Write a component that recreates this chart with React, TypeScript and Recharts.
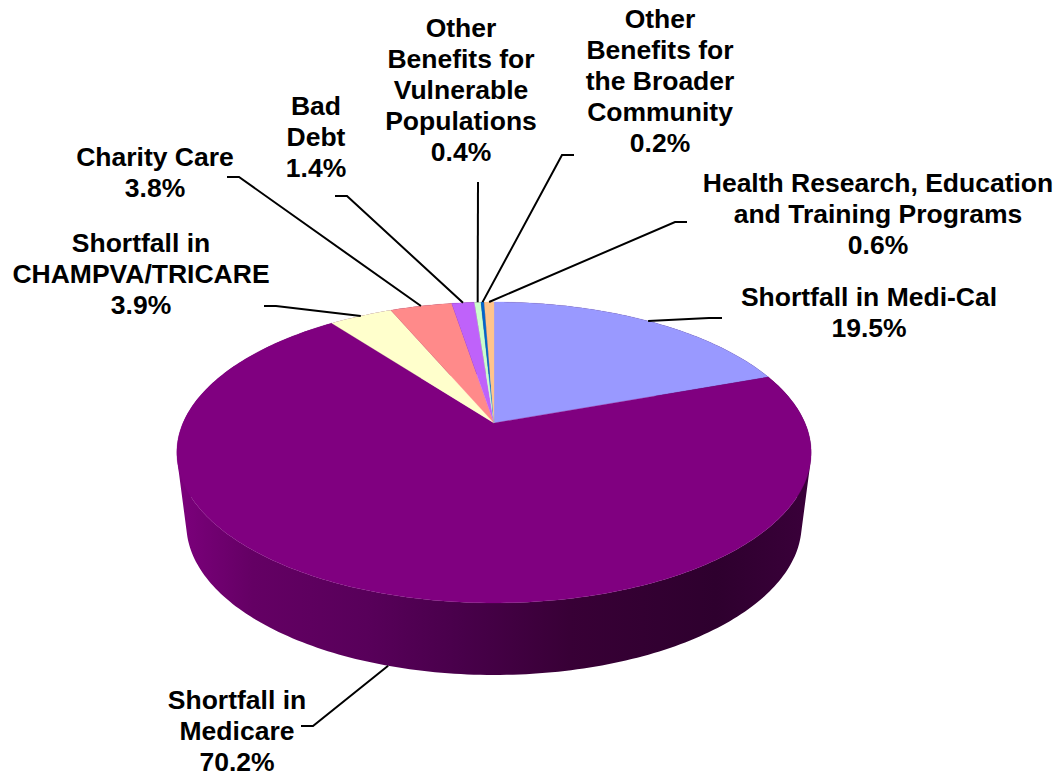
import React from 'react';
import { PieChart, Pie } from 'recharts';

const sliceNames = [
  'Shortfall in Medi-Cal',
  'Shortfall in Medicare',
  'Shortfall in CHAMPVA/TRICARE',
  'Charity Care',
  'Bad Debt',
  'Other Benefits for Vulnerable Populations',
  'Other Benefits for the Broader Community',
  'Health Research, Education and Training Programs',
];
const sliceValues = [19.5, 70.2, 3.9, 3.8, 1.4, 0.4, 0.2, 0.6];
const sliceColors = ['#9999FF', '#800080', '#FFFFCC', '#FF8A8A', '#BF62FA', '#CCFFCC', '#0066CC', '#FFC48C'];
const labelLines = [
  ['Shortfall in Medi-Cal'],
  ['Shortfall in', 'Medicare'],
  ['Shortfall in', 'CHAMPVA/TRICARE'],
  ['Charity Care'],
  ['Bad', 'Debt'],
  ['Other', 'Benefits for', 'Vulnerable', 'Populations'],
  ['Other', 'Benefits for', 'the Broader', 'Community'],
  ['Health Research, Education', 'and Training Programs'],
];

const data = sliceNames.map((name, i) => ({ name, value: sliceValues[i], fill: sliceColors[i] }));

// label placement: text centre x, first baseline y, leader elbow and leader end
const labelLayout = [
  { x: 869, y: 306, elbow: [709, 318], end: [722, 318] },
  { x: 237, y: 709, elbow: [313, 726], end: [301, 726], fromWall: true },
  { x: 141, y: 252, elbow: [276, 306], end: [264, 306] },
  { x: 155, y: 166, elbow: [239, 177], end: [227, 177] },
  { x: 316, y: 115, elbow: [347, 196], end: [335, 196] },
  { x: 461, y: 37, elbow: [478, 182], end: [478, 182] },
  { x: 660, y: 28, elbow: [562, 155], end: [574, 155] },
  { x: 878, y: 192, elbow: [675, 222], end: [687, 222] },
];

const LINE_HEIGHT = 31;
const FONT_SIZE = 26.5;
const WIDTH = 1059;
const HEIGHT = 777;
const CX = 494;
const CY = 423;
const RADIUS = 311;

// tilted disc in perspective
const TILT = 144.7 / 311;
const PERSPECTIVE = 0.196;
const WALL_DEPTH = 72;
const WALL_SCALE = 0.97;
const RAD = Math.PI / 180;

const project = (cx: number, cy: number, r: number, angle: number) => {
  const u = Math.cos(angle * RAD);
  const v = Math.sin(angle * RAD);
  const w = 1 + PERSPECTIVE * v;
  return [cx + (r * u) / w, cy - (r * TILT * v) / w];
};

const arcPoints = (props: any) => {
  const { cx, cy, outerRadius, startAngle, endAngle } = props;
  const steps = Math.max(2, Math.ceil(Math.abs(endAngle - startAngle)));
  const pts: number[][] = [];
  for (let i = 0; i <= steps; i++) {
    pts.push(project(cx, cy, outerRadius, startAngle + ((endAngle - startAngle) * i) / steps));
  }
  return pts;
};

const toPath = (pts: number[][]) => 'M' + pts.map((p) => `${p[0].toFixed(2)},${p[1].toFixed(2)}`).join('L') + 'Z';

const signedArea = (pts: number[][]) =>
  pts.reduce((sum, p, i) => {
    const q = pts[(i + 1) % pts.length];
    return sum + p[0] * q[1] - q[0] * p[1];
  }, 0);

const TopFace = (props: any) => {
  const pts = [[props.cx, props.cy], ...arcPoints(props)];
  return <path d={toPath(pts)} fill={props.fill} stroke={props.fill} strokeWidth={0.3} />;
};

// the side is swept quad by quad, all wound the same way, so the silhouette stays closed
const WallFace = (props: any) => {
  const top = arcPoints(props);
  const drop = (p: number[]) => [props.cx + (p[0] - props.cx) * WALL_SCALE, p[1] + WALL_DEPTH];
  const quads = top.slice(1).map((p, i) => {
    const quad = [top[i], p, drop(p), drop(top[i])];
    return toPath(signedArea(quad) < 0 ? quad.reverse() : quad);
  });
  return <path d={quads.join('')} fill="url(#wallShade)" />;
};

const SliceLabel = (props: any) => {
  const { cx, cy, outerRadius, midAngle, index, value } = props;
  const layout = labelLayout[index];
  const edge = project(cx, cy, outerRadius, midAngle);
  const start = layout.fromWall
    ? [cx + (edge[0] - cx) * WALL_SCALE, edge[1] + WALL_DEPTH]
    : edge;
  const lines = [...labelLines[index], `${value.toFixed(1)}%`];
  return (
    <g>
      <polyline
        points={`${start[0]},${start[1]} ${layout.elbow[0]},${layout.elbow[1]} ${layout.end[0]},${layout.end[1]}`}
        fill="none"
        stroke="#000"
        strokeWidth={2}
      />
      <text
        textAnchor="middle"
        fontFamily="'Liberation Sans', Arial, sans-serif"
        fontWeight="bold"
        fontSize={FONT_SIZE}
        fill="#000"
      >
        {lines.map((line, i) => (
          <tspan key={i} x={layout.x} y={layout.y + i * LINE_HEIGHT}>
            {line}
          </tspan>
        ))}
      </text>
    </g>
  );
};

export default function App() {
  return (
    <div style={{ position: 'absolute', left: 0, top: 0, width: WIDTH, height: HEIGHT, background: '#fff' }}>
      <PieChart width={WIDTH} height={HEIGHT} margin={{ top: 0, right: 0, bottom: 0, left: 0 }}>
        <defs>
          <linearGradient id="wallShade" gradientUnits="userSpaceOnUse" x1="177" y1="0" x2="811" y2="0">
            <stop offset="0" stopColor="#7C007C" />
            <stop offset="0.05" stopColor="#720072" />
            <stop offset="0.12" stopColor="#640064" />
            <stop offset="0.3" stopColor="#58005A" />
            <stop offset="0.45" stopColor="#48004A" />
            <stop offset="0.62" stopColor="#380036" />
            <stop offset="0.85" stopColor="#2E002E" />
            <stop offset="1" stopColor="#3A003A" />
          </linearGradient>
        </defs>
        <Pie
          data={data}
          dataKey="value"
          cx={CX}
          cy={CY}
          outerRadius={RADIUS}
          startAngle={90}
          endAngle={-270}
          shape={WallFace}
          label={false}
          labelLine={false}
          isAnimationActive={false}
        />
        <Pie
          data={data}
          dataKey="value"
          cx={CX}
          cy={CY}
          outerRadius={RADIUS}
          startAngle={90}
          endAngle={-270}
          shape={TopFace}
          label={SliceLabel}
          labelLine={false}
          isAnimationActive={false}
        />
      </PieChart>
    </div>
  );
}
